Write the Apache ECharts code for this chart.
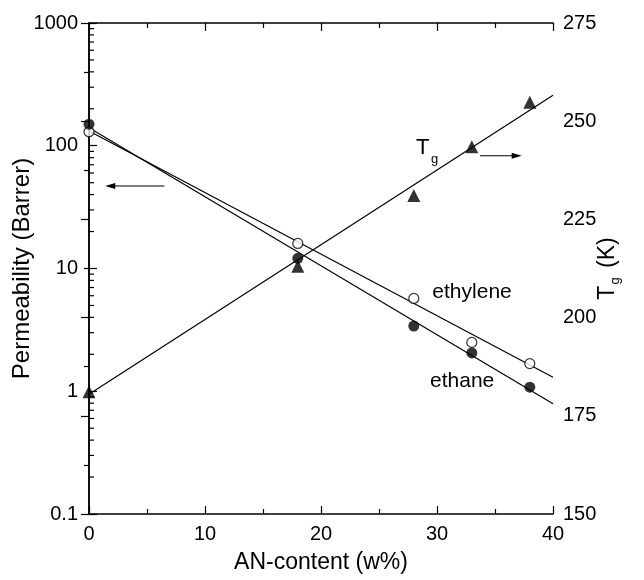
<!DOCTYPE html>
<html><head><meta charset="utf-8">
<script src="https://cdn.jsdelivr.net/npm/echarts@6/dist/echarts.min.js"></script>
<style>html,body{margin:0;padding:0;background:#fff}#c{width:644px;height:580px}</style>
</head><body><div id="c"></div>
<script>
const anContent = [0, 18, 28, 33, 38];
const ethylene = [130, 16, 5.7, 2.5, 1.68];
const ethane = [150, 12.1, 3.4, 2.05, 1.08];
const tg = [181.1, 213.1, 231.1, 243.5, 254.8];
const fitX = [0, 40];
const ethyleneFit = [132, 1.3];
const ethaneFit = [140, 0.79];
const tgFit = [180.5, 256.6];
const xTicks = [0, 10, 20, 30, 40];
const permTicks = [0.1, 1, 10, 100, 1000];
const tgTicks = [150, 175, 200, 225, 250, 275];
const textLabels = [
  {text: 'ethylene', x: 29.6, y: 6.45, axis: 0},
  {text: 'ethane', x: 29.4, y: 1.21, axis: 0}
];
const tgLabel = {x: 28.2, y: 243.2};
const arrows = [
  {from: [6.5, 47], to: [1.4, 47], axis: 0},
  {from: [33.7, 241.2], to: [37.3, 241.2], axis: 1}
];

const FONT = 'Liberation Sans';
const chart = echarts.init(document.getElementById('c'), null, {renderer: 'canvas'});
const zip = (xs, ys) => xs.map((x, i) => [x, ys[i]]);
const lab = {color: '#000', fontFamily: FONT, fontSize: 20};

chart.setOption({
  animation: false,
  backgroundColor: '#fff',
  grid: {left: 89, right: 91, top: 23, bottom: 66, containLabel: false, outerBoundsMode: 'none'},
  xAxis: [{
    type: 'value', min: xTicks[0], max: xTicks[xTicks.length - 1], interval: 10,
    name: 'AN-content (w%)', nameLocation: 'middle', nameGap: 37, nameMoveOverlap: false,
    nameTextStyle: {color: '#000', fontFamily: FONT, fontSize: 23},
    axisLine: {show: true, lineStyle: {color: '#000', width: 1.5}},
    axisTick: {show: true, inside: true, length: 8, lineStyle: {color: '#000', width: 1.2}},
    minorTick: {show: true, splitNumber: 2, length: 5, lineStyle: {color: '#000', width: 1.2}},
    axisLabel: Object.assign({margin: 10}, lab),
    splitLine: {show: false}
  }, {
    type: 'value', position: 'top', min: xTicks[0], max: xTicks[xTicks.length - 1], interval: 10,
    axisLine: {show: true, lineStyle: {color: '#000', width: 1.5}},
    axisTick: {show: true, inside: true, length: 8, lineStyle: {color: '#000', width: 1.2}},
    minorTick: {show: true, splitNumber: 2, length: 5, lineStyle: {color: '#000', width: 1.2}},
    axisLabel: {show: false}, splitLine: {show: false}
  }],
  yAxis: [{
    type: 'log', logBase: 10, min: permTicks[0], max: permTicks[permTicks.length - 1],
    name: 'Permeability (Barrer)', nameLocation: 'middle', nameGap: 55, nameRotate: 90, nameMoveOverlap: false,
    nameTextStyle: {color: '#000', fontFamily: FONT, fontSize: 24},
    axisLine: {show: true, lineStyle: {color: '#000', width: 1.5}},
    axisTick: {show: true, inside: true, length: 8, lineStyle: {color: '#000', width: 1.2}},
    axisLabel: Object.assign({margin: 11, formatter: v => String(+v.toPrecision(3))}, lab),
    splitLine: {show: false}
  }, {
    type: 'value', position: 'right', min: tgTicks[0], max: tgTicks[tgTicks.length - 1], interval: 25,
    name: '{t|T}{s|g}{t| (K)}', nameLocation: 'middle', nameGap: 41, nameRotate: 90, nameMoveOverlap: false,
    nameTextStyle: {color: '#000', fontFamily: FONT, fontSize: 23,
      rich: {t: {fontFamily: FONT, fontSize: 23, color: '#000'},
             s: {fontFamily: FONT, fontSize: 13, color: '#000', padding: [15, 3, 0, 1]}}},
    axisLine: {show: true, lineStyle: {color: '#000', width: 1.5}},
    axisTick: {show: true, inside: true, length: 8, lineStyle: {color: '#000', width: 1.2}},
    minorTick: {show: true, splitNumber: 2, length: 5, lineStyle: {color: '#000', width: 1.2}},
    axisLabel: Object.assign({margin: 10}, lab),
    splitLine: {show: false}
  }],
  series: [
    {type: 'line', data: zip(fitX, ethyleneFit), symbol: 'none', lineStyle: {color: '#000', width: 1.2}, z: 1},
    {type: 'line', data: zip(fitX, ethaneFit), symbol: 'none', lineStyle: {color: '#000', width: 1.2}, z: 1},
    {type: 'line', yAxisIndex: 1, data: zip(fitX, tgFit), symbol: 'none', lineStyle: {color: '#000', width: 1.2}, z: 1},
    {type: 'scatter', data: zip(anContent, ethylene), symbol: 'circle', symbolSize: 10,
     itemStyle: {color: '#fff', borderColor: '#000', borderWidth: 1.2}, z: 3},
    {type: 'scatter', data: zip(anContent, ethane), symbol: 'circle', symbolSize: 11,
     itemStyle: {color: '#000'}, z: 3},
    {type: 'scatter', yAxisIndex: 1, data: zip(anContent, tg), symbol: 'triangle', symbolSize: 13,
     itemStyle: {color: '#000'}, z: 3}
  ]
});

function px(axis, pt) {
  return chart.convertToPixel({xAxisIndex: 0, yAxisIndex: axis}, pt);
}
const g = [];
const leftX = px(0, [0, 1])[0];
for (let i = 0; i < permTicks.length - 1; i++) {
  for (let k = 2; k <= 9; k++) {
    const y = chart.convertToPixel({yAxisIndex: 0}, permTicks[i] * k);
    g.push({type: 'line', shape: {x1: leftX, y1: y, x2: leftX + 5, y2: y},
      style: {stroke: '#000', lineWidth: 1.2}, z: 5});
  }
}
textLabels.forEach(l => {
  const p = px(l.axis, [l.x, l.y]);
  g.push({type: 'text', x: p[0], y: p[1], style: {text: l.text, fill: '#000', font: '21px "' + FONT + '"', textVerticalAlign: 'middle', textAlign: 'left'}, z: 6});
});
{
  const p = px(1, [tgLabel.x, tgLabel.y]);
  g.push({type: 'text', x: p[0], y: p[1], style: {text: 'T', fill: '#000', font: '22px "' + FONT + '"', textVerticalAlign: 'middle'}, z: 6});
  g.push({type: 'text', x: p[0] + 15, y: p[1] + 12, style: {text: 'g', fill: '#000', font: '13px "' + FONT + '"', textVerticalAlign: 'middle'}, z: 6});
}
arrows.forEach(a => {
  const p1 = px(a.axis, a.from), p2 = px(a.axis, a.to);
  const dir = Math.sign(p2[0] - p1[0]);
  g.push({type: 'line', shape: {x1: p1[0], y1: p1[1], x2: p2[0] - dir * 6, y2: p2[1]}, style: {stroke: '#000', lineWidth: 1.2}, z: 6});
  g.push({type: 'polygon', shape: {points: [[p2[0], p2[1]], [p2[0] - dir * 10, p2[1] - 3], [p2[0] - dir * 10, p2[1] + 3]]}, style: {fill: '#000'}, z: 6});
});
chart.setOption({graphic: g});
</script></body></html>
